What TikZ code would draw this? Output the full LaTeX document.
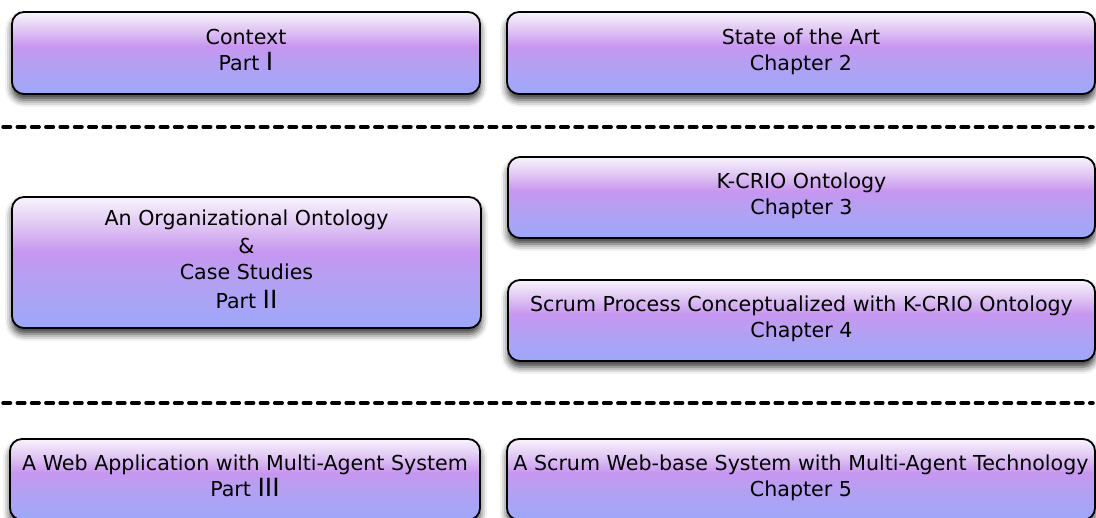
\documentclass[tikz,border=0pt]{standalone}
\usepackage{fontspec}
\setmainfont{DejaVu Sans}
\usetikzlibrary{shadows.blur}
\definecolor{topc}{HTML}{F8F3FC}
\definecolor{upc}{HTML}{E2CAF4}
\definecolor{midc}{HTML}{C796F0}
\definecolor{lowc}{HTML}{B79FF2}
\definecolor{botc}{HTML}{9DA8F9}
\pgfdeclareverticalshading{boxshade}{100bp}{color(0bp)=(botc); color(25bp)=(botc); color(45bp)=(lowc); color(54bp)=(midc); color(65bp)=(upc); color(75bp)=(topc); color(100bp)=(topc)}
\newcommand{\rn}[1]{{\fontsize{25}{26}\selectfont #1}}
\newcommand{\lift}{\\[-19pt]\mbox{}}
\tikzset{
  box/.style={draw=black, line width=1.8pt, rounded corners=12pt,
    shading=boxshade,
    blur shadow={shadow xshift=0pt, shadow yshift=-6pt, shadow blur radius=7pt, shadow opacity=80},
    align=center, inner sep=0pt, font=\fontsize{20.6}{26}\selectfont,
    text=black},
  sep/.style={line width=3.5pt, dash pattern=on 7.5pt off 6.8pt, line cap=round}
}
\begin{document}
\begin{tikzpicture}[x=1pt,y=-1pt]
\useasboundingbox (0,0) rectangle (1096,518);
\node[box, minimum width=468pt, minimum height=82pt] (b1) at (246,53) {Context\\Part \rn{I}\lift};
\node[box, minimum width=588pt, minimum height=82pt] (b2) at (801,53) {State of the Art\\Chapter 2\lift};
\node[box, minimum width=469pt, minimum height=131pt] (b3) at (246.5,262.5) {An Organizational Ontology\\[2pt]\&\\Case Studies\\[3pt]Part \rn{II}\lift};
\node[box, minimum width=587pt, minimum height=81pt] (b4) at (801.5,197.5) {K-CRIO Ontology\\Chapter 3\lift};
\node[box, minimum width=587pt, minimum height=81pt] (b5) at (801.5,320.5) {Scrum Process Conceptualized with K-CRIO Ontology\\Chapter 4\lift};
\node[box, minimum width=470pt, minimum height=81pt] (b6) at (245,479.5) {A Web Application with Multi-Agent System\\Part \rn{III}\lift};
\node[box, minimum width=588pt, minimum height=81pt] (b7) at (801,479.5) {A Scrum Web-base System with Multi-Agent Technology\\Chapter 5\lift};
\coordinate (s1a) at (3,127);
\coordinate (s1b) at (1093,127);
\coordinate (s2a) at (3,403);
\coordinate (s2b) at (1093,403);
\draw[sep] (s1a) -- (s1b);
\draw[sep] (s2a) -- (s2b);
\end{tikzpicture}
\end{document}
